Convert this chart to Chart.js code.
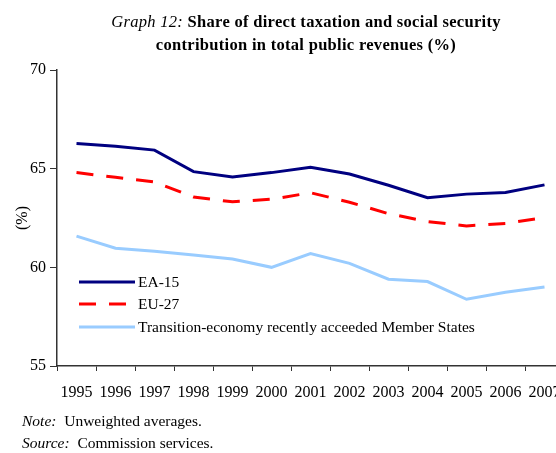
<!DOCTYPE html>
<html>
<head>
<meta charset="utf-8">
<script src="https://cdn.jsdelivr.net/npm/chart.js@4"></script>
<style>
  body { margin: 0; width: 556px; height: 453px; overflow: hidden; background: #fff; font-family: 'Liberation Serif', serif; }
  #wrap { position: absolute; left: 0; top: 0; width: 600px; height: 453px; }
  #title { position: absolute; left: 56px; width: 500px; top: 10px; text-align: center; font-size: 16.5px; line-height: 23px; font-weight: bold; color: #000; letter-spacing: 0.3px; }
  #title i { font-weight: normal; }
  .note { position: absolute; left: 22px; font-size: 15.5px; color: #000; }
</style>
</head>
<body>
<div id="wrap"><canvas id="chart" width="600" height="453"></canvas></div>
<div id="title"><i>Graph 12:</i> Share of direct taxation and social security<br>contribution in total public revenues (%)</div>
<div class="note" style="top:412px"><i>Note:</i>&nbsp; Unweighted averages.</div>
<div class="note" style="top:434px"><i>Source:</i>&nbsp; Commission services.</div>
<script>
const years = ['1995', '1996', '1997', '1998', '1999', '2000', '2001', '2002', '2003', '2004', '2005', '2006', '2007'];
const ea15 = [66.27, 66.14, 65.94, 64.85, 64.58, 64.8, 65.07, 64.73, 64.16, 63.53, 63.71, 63.79, 64.18];
const eu27 = [64.8, 64.56, 64.33, 63.56, 63.32, 63.45, 63.78, 63.3, 62.72, 62.32, 62.1, 62.22, 62.52];
const transition = [61.58, 60.97, 60.82, 60.62, 60.42, 60.0, 60.7, 60.2, 59.4, 59.28, 58.38, 58.74, 59.0];
const yTicks = [55, 60, 65, 70];

Chart.defaults.font.family = "'Liberation Serif', serif";
Chart.defaults.font.size = 16;
Chart.defaults.color = '#000';

// legend drawn inside the plot, lower left
const innerLegend = {
  id: 'innerLegend',
  afterDatasetsDraw(chart) {
    const ctx = chart.ctx;
    const a = chart.chartArea;
    const rows = [282, 304, 327];
    ctx.save();
    chart.data.datasets.forEach((ds, i) => {
      const y = rows[i];
      ctx.strokeStyle = ds.borderColor;
      ctx.lineWidth = ds.borderWidth;
      ctx.setLineDash(ds.borderDash || []);
      ctx.beginPath();
      ctx.moveTo(a.left + 22, y);
      ctx.lineTo(a.left + 78, y);
      ctx.stroke();
      ctx.setLineDash([]);
      ctx.fillStyle = '#000';
      ctx.font = "15.5px 'Liberation Serif'";
      ctx.textBaseline = 'middle';
      ctx.fillText(ds.label, a.left + 81, y + 1);
    });
    ctx.restore();
  }
};

new Chart(document.querySelector('#chart'), {
  type: 'line',
  data: {
    labels: years,
    datasets: [
      { label: 'EA-15', data: ea15, borderColor: '#000080', borderWidth: 3 },
      { label: 'EU-27', data: eu27, borderColor: '#ff0000', borderWidth: 3, borderDash: [17, 13] },
      { label: 'Transition-economy recently acceeded Member States', data: transition, borderColor: '#99ccff', borderWidth: 3 }
    ]
  },
  options: {
    responsive: false,
    animation: false,
    layout: { padding: { left: 0, top: 70, right: 36, bottom: 0 } },
    elements: { point: { radius: 0 }, line: { tension: 0 } },
    plugins: { legend: { display: false }, tooltip: { enabled: false } },
    scales: {
      x: {
        offset: true,
        grid: { offset: true, drawOnChartArea: false, tickLength: 5, color: '#333', tickColor: '#333' },
        border: { color: '#333', width: 1.5 },
        ticks: { padding: 12, maxRotation: 0, autoSkip: false },
        afterFit: (s) => { s.height = 87; }
      },
      y: {
        min: 55,
        max: 70,
        afterBuildTicks: (s) => { s.ticks = yTicks.map(v => ({ value: v })); },
        grid: { drawOnChartArea: false, tickLength: 7, color: '#333', tickColor: '#333' },
        border: { color: '#333', width: 1.5 },
        ticks: { padding: 4 },
        title: { display: true, text: '(%)', padding: { top: 13, bottom: 0 } },
        afterFit: (s) => { s.width = 57; }
      }
    }
  },
  plugins: [innerLegend]
});
</script>
</body>
</html>
